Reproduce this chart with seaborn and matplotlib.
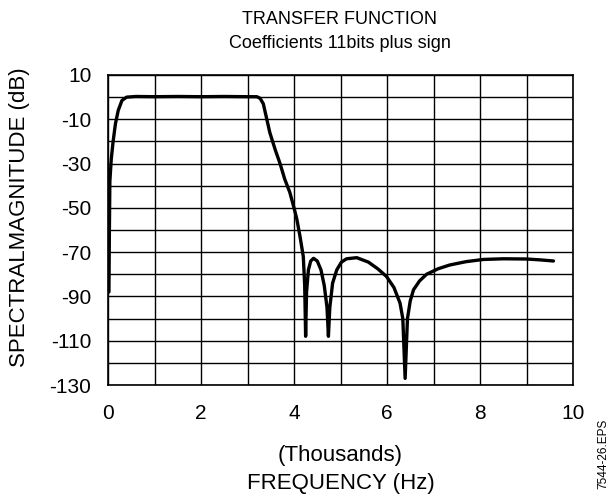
#Respuesta en frecuencia del filtro
import pandas as pd
import numpy as np
import seaborn as sns
import matplotlib
matplotlib.use("Agg")
import matplotlib.pyplot as plt

#Datos (frecuencia en miles de Hz, magnitud en dB)
frecuencia = [0.02, 0.03, 0.04, 0.07, 0.11, 0.16, 0.22, 0.30, 0.40, 0.6, 1.0, 1.5, 2.0, 2.5,
              3.0, 3.2, 3.27, 3.34, 3.48, 3.6, 3.70, 3.80, 3.91, 4.00, 4.06, 4.13, 4.20,
              4.23, 4.25, 4.27, 4.31, 4.36, 4.42, 4.5, 4.58, 4.65, 4.71, 4.74, 4.77, 4.83,
              4.92, 5.02, 5.13, 5.35, 5.6, 5.8, 5.99, 6.15, 6.28, 6.34, 6.39, 6.44, 6.50,
              6.57, 6.7, 6.85, 7.1, 7.35, 7.7, 8.07, 8.5, 9.0, 9.3, 9.58]
magnitud = [-88, -60, -38, -28, -20, -12, -6, -1.5, 0, 0.3, 0.2, 0.3, 0.2, 0.3,
            0.2, 0.2, -0.5, -3, -16, -24, -30, -37, -43, -50, -55, -63, -72,
            -85, -108, -88, -78, -74, -72.8, -74, -78, -85, -95, -108, -95, -84,
            -78, -74.5, -73, -72.5, -74.5, -77.5, -81, -86, -93, -100, -127, -100, -92,
            -87, -83, -80, -77.5, -75.8, -74.3, -73.3, -73, -73.1, -73.5, -74]

xticks = [0, 2, 4, 6, 8, 10]
yticks = [10, -10, -30, -50, -70, -90, -110, -130]

df = pd.DataFrame({"freq": frecuencia, "mag": magnitud})

sns.set_style("white")
plt.rcParams['font.family'] = ['Liberation Sans', 'DejaVu Sans']
plt.rcParams['text.color'] = 'black'
plt.rcParams['xtick.color'] = 'black'
plt.rcParams['ytick.color'] = 'black'

fig = plt.figure(figsize=(6.08, 5), dpi=100)
ax = fig.add_axes([108/608, 1 - 385/500, (573-108)/608, (385-75)/500])

sns.lineplot(data=df, x="freq", y="mag", ax=ax, color="black", linewidth=2.4)

ax.set_xlim(0, 10)
ax.set_ylim(-130, 10)
ax.set_xticks(np.arange(0, 11, 1), minor=True)
ax.set_yticks(np.arange(-130, 11, 10), minor=True)
ax.set_xticks(xticks)
ax.set_yticks(yticks)
ax.set_xticklabels([str(t) for t in xticks], fontsize=15, color="black")
ax.set_yticklabels([str(t) for t in yticks], fontsize=15, color="black")
ax.grid(which="both", color="black", linewidth=1.0)
ax.tick_params(which="both", length=0)
ax.tick_params(axis="x", pad=14)
ax.tick_params(axis="y", pad=12)
for s in ax.spines.values():
    s.set_color("black")
    s.set_linewidth(1.2)
ax.set_xlabel("")
ax.set_ylabel("")

# Titulos y etiquetas
fig.text(340/608, 1 - 19/500, "TRANSFER FUNCTION", ha="center", va="center", fontsize=13, color="black")
fig.text(340/608, 1 - 44/500, "Coefficients 11bits plus sign", ha="center", va="center", fontsize=13, color="black")
fig.text(340.5/608, 1 - 455/500, "(Thousands)", ha="center", va="center", fontsize=16, color="black")
fig.text(340.5/608, 1 - 483/500, "FREQUENCY (Hz)", ha="center", va="center", fontsize=16, color="black")
fig.text(20/608, 1 - 217/500, "SPECTRALMAGNITUDE (dB)", rotation=90, ha="center", va="center", fontsize=16, color="black")
fig.text(603/608, 1 - 454/500, "7544-26.EPS", rotation=90, ha="center", va="center", fontsize=8.5, color="black")

fig.savefig("out.png", dpi=100)
